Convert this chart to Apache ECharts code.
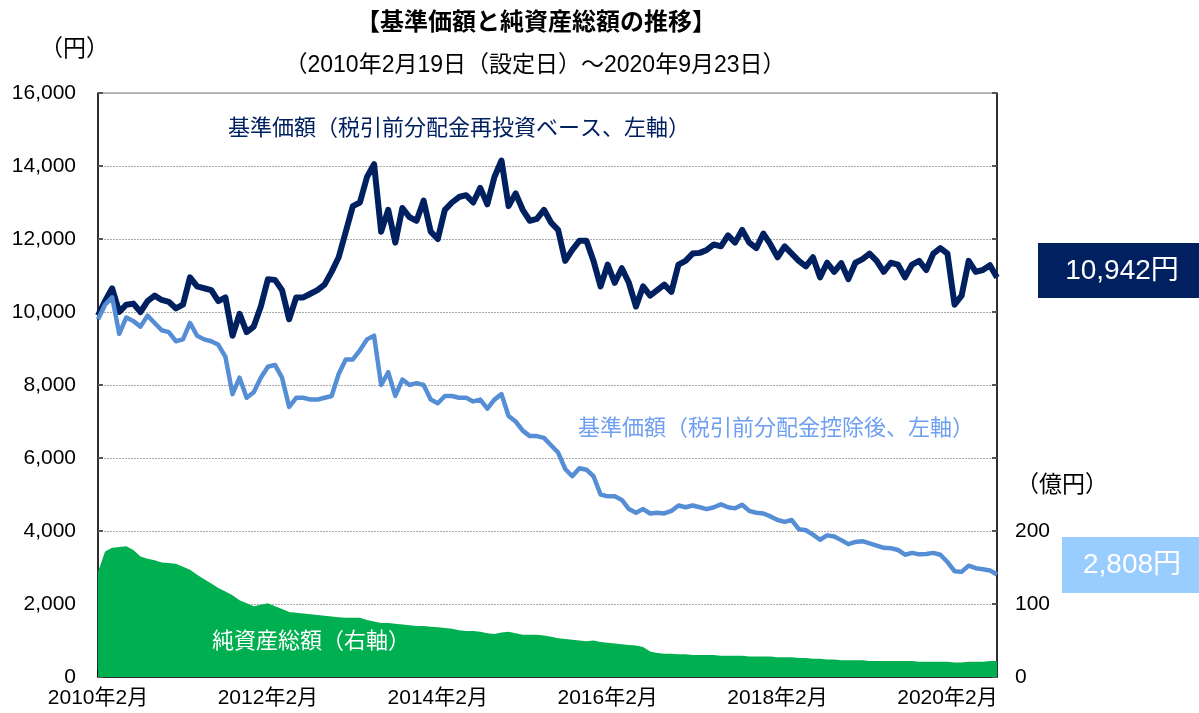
<!DOCTYPE html>
<html><head><meta charset="utf-8">
<script src="https://cdn.jsdelivr.net/npm/echarts@6/dist/echarts.min.js"></script>
<style>html,body{margin:0;padding:0;background:#fff}#c{width:1199px;height:713px}</style>
</head><body><div id="c"></div>
<script>
// Monthly observations, first = 2010-02, last = 2020-09
const startYear = 2010, startMonth = 2;
const navReinvested = [
9900,10300,10650,10000,10200,10230,10000,10300,10450,10330,10280,10100,
10200,10950,10700,10650,10600,10300,10400,9350,9950,9450,9600,10150,
10900,10880,10600,9800,10400,10400,10500,10600,10750,11100,11500,12200,
12900,13000,13700,14050,12200,12800,11900,12850,12600,12500,13050,12200,
12000,12800,13000,13150,13200,13000,13400,12950,13700,14150,12900,13250,
12800,12500,12550,12800,12450,12250,11400,11700,11950,11950,11400,10700,
11300,10800,11200,10800,10150,10700,10450,10600,10750,10550,11300,11400,
11600,11620,11700,11850,11800,12100,11900,12250,11900,11750,12150,11850,
11500,11800,11600,11400,11250,11500,10950,11350,11100,11340,10900,11350,
11450,11600,11400,11100,11350,11300,10950,11300,11400,11150,11600,11750,
11600,10200,10450,11400,11100,11150,11280,10942];
const navAfterDist = [
9800,10200,10400,9400,9850,9750,9600,9900,9700,9500,9450,9200,
9250,9700,9350,9250,9200,9100,8770,7750,8200,7650,7800,8200,
8500,8550,8200,7400,7650,7650,7600,7600,7650,7700,8300,8700,
8700,8950,9250,9350,8000,8350,7700,8150,8000,8050,8000,7600,
7500,7700,7700,7650,7650,7550,7600,7350,7600,7750,7150,7000,
6750,6600,6600,6550,6350,6150,5700,5500,5720,5680,5500,5000,
4950,4950,4850,4600,4500,4600,4480,4500,4480,4550,4700,4650,
4700,4650,4600,4650,4730,4650,4620,4720,4550,4500,4480,4400,
4300,4250,4300,4050,4020,3900,3760,3880,3850,3750,3640,3700,
3720,3660,3600,3540,3530,3480,3350,3400,3360,3370,3400,3350,
3150,2900,2880,3050,2980,2950,2920,2808];
const netAssets = [
144,172,177,178,179,174,165,162,160,157,156,155,
151,147,140,134,128,122,117,112,105,101,97,99,
101,97,93,89,88,87,86,85,84,83,82,81,
81,81,78,76,74,74,73,72,71,70,70,69,
68,67,66,64,63,63,62,60,59,61,62,60,
58,58,58,57,55,53,52,51,50,49,50,48,
47,46,45,44,43,41,35,33,32,32,31,31,
30,30,30,30,29,29,29,29,28,28,28,28,
27,27,27,26,26,25,25,24,24,23,23,23,
23,22,22,22,22,22,22,22,21,21,21,21,
21,20,20,21,21,21,22,22];
const xTickLabels = ['2010年2月','2012年2月','2014年2月','2016年2月','2018年2月','2020年2月'];
const lastReinvested = '10,942円';
const lastAfterDist = '2,808円';

const pts = arr => arr.map((v, i) => [i, v]);
const FONT = '"Liberation Sans", "Noto Sans CJK JP", sans-serif';

const chart = echarts.init(document.getElementById('c'));
chart.setOption({
  animation: false,
  textStyle: { fontFamily: FONT },
  title: [
    { text: '【基準価額と純資産総額の推移】', left: 531, top: 4, textAlign: 'center',
      textStyle: { fontSize: 24, fontWeight: 'bold', color: '#000', fontFamily: '"Noto Sans CJK JP", sans-serif' } },
    { text: '（2010年2月19日（設定日）～2020年9月23日）', left: 530, top: 49, textAlign: 'center',
      textStyle: { fontSize: 23, fontWeight: 'normal', color: '#000', fontFamily: FONT } }
  ],
  grid: { left: 98, right: 202, top: 93, bottom: 36, show: true, borderColor: '#777', borderWidth: 1 },
  xAxis: {
    type: 'value', min: 0, max: 127, interval: 24,
    axisLine: { lineStyle: { color: '#000', width: 1.5 } },
    axisTick: { inside: true, length: 7, lineStyle: { color: '#000', width: 1.5 } },
    splitLine: { show: false },
    axisLabel: { color: '#000', fontSize: 21, margin: 11,
      formatter: v => xTickLabels[Math.round(v / 24)] || '' }
  },
  yAxis: [
    { type: 'value', min: 0, max: 16000, interval: 2000,
      axisLine: { show: true, lineStyle: { color: '#000', width: 1.5 } },
      axisTick: { show: true, inside: true, length: 5, lineStyle: { color: '#555', width: 2 } },
      splitLine: { show: true, lineStyle: { color: '#aaa', type: [2, 1], width: 1 } },
      axisLabel: { color: '#000', fontSize: 21, margin: 22,
        formatter: v => v.toLocaleString('en-US') } },
    { type: 'value', min: 0, max: 800, interval: 100, position: 'right',
      axisLine: { show: true, lineStyle: { color: '#000', width: 1.5 } },
      axisTick: { show: true, inside: true, length: 5, lineStyle: { color: '#555', width: 2 } },
      splitLine: { show: false },
      axisLabel: { color: '#000', fontSize: 21, margin: 18,
        formatter: v => (v <= 200 ? String(v) : '') } }
  ],
  series: [
    { type: 'line', yAxisIndex: 1, data: pts(netAssets), symbol: 'none', smooth: false,
      lineStyle: { width: 0 }, itemStyle: { color: '#00b050' },
      areaStyle: { color: '#00b050', opacity: 1 }, z: 1 },
    { type: 'line', yAxisIndex: 0, data: pts(navReinvested), symbol: 'none',
      lineStyle: { width: 6, color: '#002060', join: 'round' }, itemStyle: { color: '#002060' }, z: 3 },
    { type: 'line', yAxisIndex: 0, data: pts(navAfterDist), symbol: 'none',
      lineStyle: { width: 4.5, color: '#558ed5', join: 'round' }, itemStyle: { color: '#558ed5' }, z: 4 }
  ],
  graphic: [
    { type: 'text', left: 40, top: 38, style: { text: '（円）', fill: '#000', font: '23px ' + FONT } },
    { type: 'text', left: 1016, top: 474, style: { text: '（億円）', fill: '#000', font: '23px ' + FONT } },
    { type: 'text', left: 228, top: 118, style: { text: '基準価額（税引前分配金再投資ベース、左軸）', fill: '#002060', font: '22px ' + FONT } },
    { type: 'text', left: 578, top: 418, style: { text: '基準価額（税引前分配金控除後、左軸）', fill: '#6e9ff0', font: '22px ' + FONT } },
    { type: 'text', left: 212, top: 631, z: 10, style: { text: '純資産総額（右軸）', fill: '#fff', font: '22px ' + FONT } },
    { type: 'group', left: 1038, top: 243, children: [
      { type: 'rect', shape: { x: 0, y: 0, width: 161, height: 55 }, style: { fill: '#002060' } },
      { type: 'text', style: { text: lastReinvested, x: 84, y: 28, textAlign: 'center', textVerticalAlign: 'middle', fill: '#fff', font: '28px ' + FONT } }
    ]},
    { type: 'group', left: 1062, top: 537, children: [
      { type: 'rect', shape: { x: 0, y: 0, width: 137, height: 56 }, style: { fill: '#99ccff' } },
      { type: 'text', style: { text: lastAfterDist, x: 70, y: 28, textAlign: 'center', textVerticalAlign: 'middle', fill: '#fff', font: '28px ' + FONT } }
    ]}
  ]
});
</script></body></html>
